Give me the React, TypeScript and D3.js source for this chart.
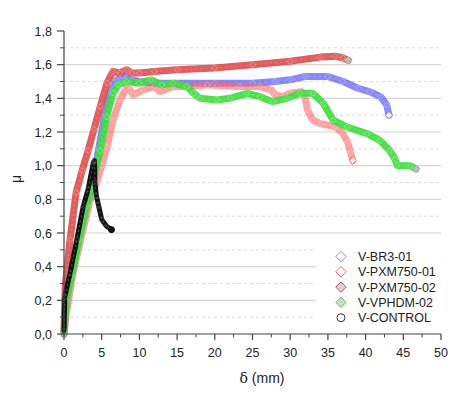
import React from 'react'
import * as d3 from 'd3'

// [delta (mm), mu]
const br301: [number, number][] = [
  [0, 0], [0.3, 0.2], [1, 0.36], [2, 0.58], [3, 0.78], [3.8, 0.9], [4.6, 1.1], [5.4, 1.3],
  [6.2, 1.44], [7, 1.51], [7.8, 1.53], [9, 1.51], [10, 1.5], [12, 1.49], [15, 1.49], [20, 1.49],
  [25, 1.49], [28, 1.5], [30, 1.51], [32, 1.53], [35, 1.53], [37, 1.5], [39, 1.46], [40.5, 1.44],
  [42, 1.41], [42.8, 1.36], [43.1, 1.3],
]
const pxm01: [number, number][] = [
  [0, 0], [0.3, 0.12], [1.2, 0.36], [2.3, 0.58], [3.4, 0.78], [4.3, 0.9], [5.0, 1.0], [5.7, 1.11],
  [6.5, 1.27], [7.4, 1.39], [8.3, 1.46], [8.8, 1.45], [9.2, 1.42], [10.5, 1.45], [12, 1.47],
  [12.7, 1.44], [14.5, 1.47], [16.3, 1.47], [19, 1.48], [23.3, 1.47], [26, 1.47], [27.5, 1.45],
  [28, 1.42], [29, 1.41], [30, 1.43], [31.5, 1.44], [32, 1.4], [32.3, 1.33], [33, 1.27],
  [34, 1.25], [36, 1.23], [37, 1.19], [37.6, 1.14], [38, 1.08], [38.3, 1.03],
]
const pxm02: [number, number][] = [
  [0, 0.02], [0.15, 0.28], [0.8, 0.56], [1.6, 0.84], [2.4, 0.97], [3.2, 1.09], [4.0, 1.22],
  [4.8, 1.35], [5.7, 1.49], [6.5, 1.56], [7.4, 1.55], [8.3, 1.57], [9, 1.55], [10, 1.55],
  [12, 1.56], [15, 1.57], [20, 1.58], [25, 1.6], [30, 1.62], [34, 1.645], [36, 1.65],
  [37, 1.64], [37.7, 1.625],
]
const vphdm02: [number, number][] = [
  [0, 0.02], [0.3, 0.2], [1, 0.34], [2, 0.56], [3, 0.76], [3.6, 0.86], [4.8, 1.09], [5.65, 1.29],
  [6.5, 1.43], [7.2, 1.48], [8.3, 1.5], [10, 1.49], [11.5, 1.51], [13, 1.48], [14.5, 1.49],
  [16.3, 1.47], [17.2, 1.43], [18, 1.4], [20.3, 1.39], [22, 1.4], [24.3, 1.43], [26, 1.41],
  [27.7, 1.38], [29.6, 1.4], [31.3, 1.43], [33, 1.43], [34.4, 1.37], [35.7, 1.27], [37.5, 1.23],
  [40.2, 1.19], [41.9, 1.15], [43.2, 1.09], [43.9, 1.04], [44.2, 1.0], [45.9, 1.0], [46.7, 0.98],
]
const control: [number, number][] = [
  [0, 0.02], [0.1, 0.22], [0.8, 0.36], [1.7, 0.56], [2.56, 0.76], [3.2, 0.86], [3.9, 1.02],
  [4.05, 1.03], [4.1, 0.9], [4.3, 0.82], [4.55, 0.77], [5.0, 0.68], [5.65, 0.64], [6.3, 0.62],
]

const names = ['V-BR3-01', 'V-PXM750-01', 'V-PXM750-02', 'V-VPHDM-02', 'V-CONTROL']
const xTicks = [0, 5, 10, 15, 20, 25, 30, 35, 40, 45, 50]
const yTicks = [0, 0.2, 0.4, 0.6, 0.8, 1.0, 1.2, 1.4, 1.6, 1.8]

const series = [
  { name: names[0], data: br301, band: '#5a5af5', bandOp: 0.72, stroke: '#8080ff', fill: 'none', shape: 'diamond' },
  { name: names[1], data: pxm01, band: '#ff6262', bandOp: 0.62, stroke: '#ff6060', fill: 'none', shape: 'diamond' },
  { name: names[2], data: pxm02, band: '#dc4848', bandOp: 0.88, stroke: '#d04848', fill: '#c8c8c8', shape: 'diamond' },
  { name: names[3], data: vphdm02, band: '#3fdc3f', bandOp: 0.92, stroke: '#40d840', fill: '#c8c8c8', shape: 'diamond' },
  { name: names[4], data: control, band: '#111111', bandOp: 1, stroke: '#111', fill: '#111', shape: 'circle' },
]

const x = d3.scaleLinear().domain([0, 50]).range([64, 441])
const y = d3.scaleLinear().domain([0, 1.8]).range([334, 31])
const fmt = (v: number) => v.toFixed(1).replace('.', ',')

const diamond = (r: number) => `M0,${-r}L${r},0L0,${r}L${-r},0Z`

function Marker({ shape, stroke, fill, cx, cy, r = 3.6, op = 1 }: any) {
  if (shape === 'circle') {
    return <circle cx={cx} cy={cy} r={r - 0.6} fill={fill} stroke={stroke} strokeWidth={1} opacity={op} />
  }
  return <path transform={`translate(${cx},${cy})`} d={diamond(r)} fill={fill} stroke={stroke} strokeWidth={1} opacity={op} />
}

export default function App() {
  const line = d3.line<[number, number]>().x(d => x(d[0])).y(d => y(d[1]))
  const minor = d3.range(0.1, 1.8, 0.2)
  const major = yTicks.filter(t => t > 0 && t < 1.8)
  const font = '"Liberation Sans", Arial, sans-serif'

  return (
    <svg width={474} height={395} style={{ position: 'absolute', left: 0, top: 0, background: '#fff' }}
      fontFamily={font}>
      {/* grid */}
      {major.map(t => (
        <line key={'g' + t} x1={64} x2={441} y1={y(t)} y2={y(t)} stroke="#d6d6d6" strokeWidth={1.2} />
      ))}
      {minor.map(t => (
        <line key={'m' + t} x1={64} x2={441} y1={y(t)} y2={y(t)} stroke="#dadada" strokeWidth={1} strokeDasharray="3,3" />
      ))}

      {/* series */}
      {series.map(s => {
        const last = s.data[s.data.length - 1]
        const isCircle = s.shape === 'circle'
        return (
          <g key={s.name}>
            <path d={line(s.data) || ''} fill="none" stroke={s.band} strokeOpacity={s.bandOp}
              strokeWidth={isCircle ? 5 : 7} strokeLinejoin="round" strokeLinecap="round" />
            <path d={line(s.data) || ''} fill="none" stroke="#fff" strokeOpacity={isCircle ? 0.25 : 0.18}
              strokeWidth={1.2} strokeDasharray="2,3" />
            {s.data.map((d, i) => (
              <Marker key={i} shape={s.shape} stroke={isCircle ? '#888' : '#fff'} fill="none"
                cx={x(d[0])} cy={y(d[1])} r={3} op={0.3} />
            ))}
            <Marker shape={s.shape} stroke={s.fill === 'none' ? s.stroke : isCircle ? '#111' : '#aaa'}
              fill={s.fill === 'none' ? '#fff' : isCircle ? '#111' : '#bbb'} cx={x(last[0])} cy={y(last[1])} r={3.6} />
          </g>
        )
      })}

      {/* legend */}
      <rect x={316} y={242} width={125} height={86} fill="#fff" />
      {series.map((s, i) => {
        const ly = 256.5 + i * 15.3
        const isCircle = s.shape === 'circle'
        return (
          <g key={'l' + s.name}>
            <Marker shape={s.shape} stroke={isCircle ? '#333' : s.stroke}
              fill={s.fill === 'none' || isCircle ? '#fff' : '#d4d4d4'}
              cx={341} cy={ly} r={isCircle ? 4.6 : 5.2} />
            <text x={358} y={ly + 4.5} fontSize={12.5} fill="#222">{s.name}</text>
          </g>
        )
      })}

      {/* y axis */}
      <line x1={64} x2={64} y1={y(1.8)} y2={334} stroke="#444" strokeWidth={1.2} />
      {yTicks.map(t => (
        <g key={'yt' + t}>
          <line x1={57} x2={64} y1={y(t)} y2={y(t)} stroke="#444" strokeWidth={1.2} />
          <text x={52} y={y(t) + 4.5} fontSize={12.5} textAnchor="end" fill="#222">{fmt(t)}</text>
        </g>
      ))}
      {minor.map(t => (
        <line key={'ymt' + t} x1={60} x2={64} y1={y(t)} y2={y(t)} stroke="#444" strokeWidth={1} />
      ))}

      {/* x axis */}
      <line x1={64} x2={441} y1={334} y2={334} stroke="#444" strokeWidth={1.2} />
      {xTicks.map(t => (
        <g key={'xt' + t}>
          <line x1={x(t)} x2={x(t)} y1={334} y2={340} stroke="#444" strokeWidth={1.2} />
          <text x={x(t)} y={357} fontSize={12.5} textAnchor="middle" fill="#222">{t}</text>
        </g>
      ))}
      {d3.range(2.5, 50, 5).map(t => (
        <line key={'xmt' + t} x1={x(t)} x2={x(t)} y1={334} y2={337.5} stroke="#444" strokeWidth={1} />
      ))}

      {/* titles */}
      <text x={262} y={383} fontSize={14} textAnchor="middle" fill="#222">
        <tspan fontFamily="'DejaVu Serif', 'Liberation Serif', serif">δ</tspan> (mm)
      </text>
      <text transform="translate(21,179) rotate(-90)" fontSize={14} textAnchor="middle" fill="#222">μ</text>
    </svg>
  )
}
